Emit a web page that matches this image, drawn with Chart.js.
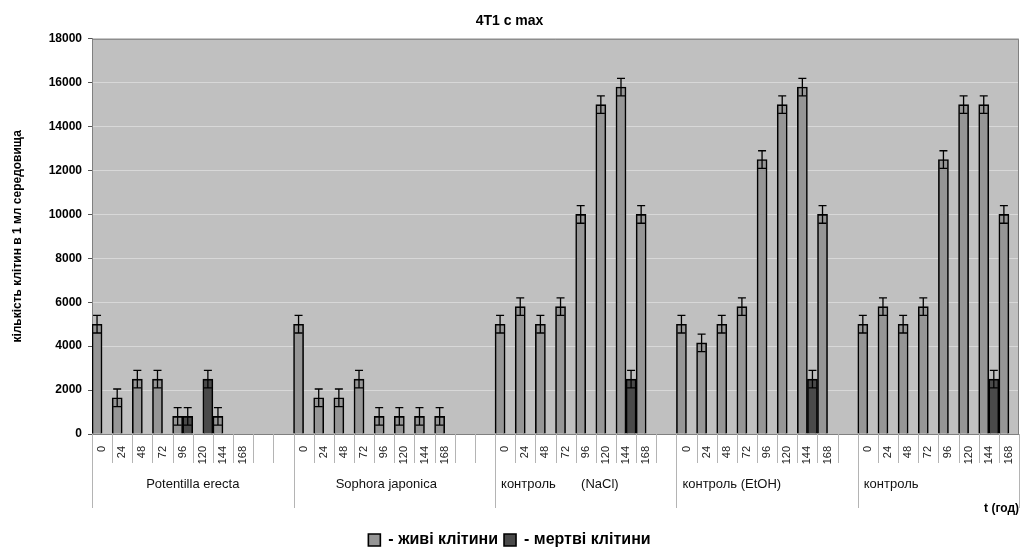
<!DOCTYPE html>
<html><head><meta charset="utf-8">
<script src="https://cdn.jsdelivr.net/npm/chart.js@4.4.1/dist/chart.umd.min.js"></script>
<style>html,body{margin:0;padding:0;background:#fff;}</style>
</head><body>
<canvas id="c" width="1029" height="553"></canvas>
<script>
// ---- data ----
const groups = ['Potentilla erecta', 'Sophora japonica', 'контроль       (NaCl)', 'контроль (EtOH)', 'контроль'];
const times = ['0', '24', '48', '72', '96', '120', '144', '168'];
const gapsAfter = [2, 2, 1, 1, 0];

const livePotentilla = [5000, 1650, 2500, 2500, 800, null, 800, null];
const liveSophora    = [5000, 1650, 1650, 2500, 800, 800, 800, 800];
const liveNaCl       = [5000, 5800, 5000, 5800, 10000, 15000, 15800, 10000];
const liveEtOH       = [5000, 4150, 5000, 5800, 12500, 15000, 15800, 10000];
const liveControl    = [5000, 5800, 5000, 5800, 12500, 15000, 15000, 10000];

const deadPotentilla = [null, null, null, null, 800, 2500, null, null];
const deadSophora    = [null, null, null, null, null, null, null, null];
const deadNaCl       = [null, null, null, null, null, null, 2500, null];
const deadEtOH       = [null, null, null, null, null, null, 2500, null];
const deadControl    = [null, null, null, null, null, null, 2500, null];

const errLivePotentilla = [400, 400, 400, 400, 400, null, 400, null];
const errLiveSophora    = [400, 400, 400, 400, 400, 400, 400, 400];
const errLiveNaCl       = [400, 400, 400, 400, 400, 400, 400, 400];
const errLiveEtOH       = [400, 400, 400, 400, 400, 400, 400, 400];
const errLiveControl    = [400, 400, 400, 400, 400, 400, 400, 400];

const errDeadPotentilla = [null, null, null, null, 400, 400, null, null];
const errDeadSophora    = [null, null, null, null, null, null, null, null];
const errDeadNaCl       = [null, null, null, null, null, null, 400, null];
const errDeadEtOH       = [null, null, null, null, null, null, 400, null];
const errDeadControl    = [null, null, null, null, null, null, 400, null];

const yTicksMax = 18000;
const yTickStep = 2000;
const seriesNames = ['- живі клітини', '- мертві клітини'];

// ---- build flat arrays ----
const liveGroups = [livePotentilla, liveSophora, liveNaCl, liveEtOH, liveControl];
const deadGroups = [deadPotentilla, deadSophora, deadNaCl, deadEtOH, deadControl];
const liveErrGroups = [errLivePotentilla, errLiveSophora, errLiveNaCl, errLiveEtOH, errLiveControl];
const deadErrGroups = [errDeadPotentilla, errDeadSophora, errDeadNaCl, errDeadEtOH, errDeadControl];

const labels = [], live = [], dead = [], liveErr = [], deadErr = [], groupRanges = [];
groups.forEach((g, gi) => {
  const start = labels.length;
  times.forEach((t, i) => {
    labels.push(t);
    live.push(liveGroups[gi][i]); dead.push(deadGroups[gi][i]);
    liveErr.push(liveErrGroups[gi][i]); deadErr.push(deadErrGroups[gi][i]);
  });
  for (let k = 0; k < gapsAfter[gi]; k++) {
    labels.push(''); live.push(null); dead.push(null); liveErr.push(null); deadErr.push(null);
  }
  groupRanges.push([start, labels.length - 1]);
});

const FONT = "'Liberation Sans', Arial, Helvetica, sans-serif";

const deco = {
  id: 'deco',
  beforeDraw(chart) {
    const {ctx, chartArea: a} = chart;
    ctx.save();
    ctx.fillStyle = '#c0c0c0';
    ctx.fillRect(a.left, a.top, a.right - a.left, a.bottom - a.top);
    ctx.restore();
  },
  afterDatasetsDraw(chart) {
    const {ctx, chartArea: a} = chart;
    const y = chart.scales.y;
    ctx.save();
    ctx.strokeStyle = '#000';
    ctx.lineWidth = 1.3;
    chart.data.datasets.forEach((ds, di) => {
      const meta = chart.getDatasetMeta(di);
      ds.data.forEach((v, i) => {
        const e = ds.errors[i];
        if (v == null || e == null) return;
        const x = meta.data[i].x;
        const yt = y.getPixelForValue(v + e), yb = y.getPixelForValue(v - e);
        ctx.beginPath();
        ctx.moveTo(x, yt); ctx.lineTo(x, yb);
        ctx.moveTo(x - 4, yt); ctx.lineTo(x + 4, yt);
        ctx.moveTo(x - 4, yb); ctx.lineTo(x + 4, yb);
        ctx.stroke();
      });
    });
    // plot border (top, right)
    ctx.strokeStyle = '#808080';
    ctx.lineWidth = 1;
    ctx.beginPath();
    ctx.moveTo(a.left, a.top + 0.5); ctx.lineTo(a.right - 0.5, a.top + 0.5); ctx.lineTo(a.right - 0.5, a.bottom);
    ctx.stroke();
    ctx.restore();
  },
  afterDraw(chart) {
    const {ctx, chartArea: a} = chart;
    const x = chart.scales.x;
    const slot = x.getPixelForValue(1) - x.getPixelForValue(0);
    ctx.save();
    ctx.strokeStyle = '#b4b4b4';
    ctx.lineWidth = 1;
    // category separators
    for (let i = 0; i <= labels.length; i++) {
      const px = Math.round(x.getPixelForValue(i) - slot / 2) + 0.5;
      ctx.beginPath(); ctx.moveTo(px, a.bottom); ctx.lineTo(px, a.bottom + 29); ctx.stroke();
    }
    // group separators + labels
    ctx.font = '13px ' + FONT;
    ctx.fillStyle = '#111';
    ctx.textBaseline = 'middle';
    groupRanges.forEach(([s, e], gi) => {
      const l = x.getPixelForValue(s) - slot / 2, r = x.getPixelForValue(e) + slot / 2;
      [l, r].forEach(p => {
        const px = Math.round(p) + 0.5;
        ctx.beginPath(); ctx.moveTo(px, a.bottom); ctx.lineTo(px, a.bottom + 74); ctx.stroke();
      });
      if (gi < 2) { ctx.textAlign = 'center'; ctx.fillText(groups[gi], (l + r) / 2 - (gi === 1 ? 8 : 0), a.bottom + 50); }
      else { ctx.textAlign = 'left'; ctx.fillText(groups[gi], l + 6, a.bottom + 50); }
    });
    ctx.restore();
  }
};

new Chart(document.getElementById('c'), {
  type: 'bar',
  data: {
    labels: labels,
    datasets: [
      {label: seriesNames[0], data: live, errors: liveErr, backgroundColor: '#969696', borderColor: '#000', borderWidth: 1.6, categoryPercentage: 1, barPercentage: 1},
      {label: seriesNames[1], data: dead, errors: deadErr, backgroundColor: '#4a4a4a', borderColor: '#000', borderWidth: 1.6, categoryPercentage: 1, barPercentage: 1}
    ]
  },
  options: {
    responsive: false,
    animation: false,
    layout: {padding: {left: 0, right: 10, top: 0, bottom: -5}},
    plugins: {
      title: {display: true, text: '4T1 с max', color: '#000', font: {family: FONT, size: 14, weight: 'bold'}, padding: {top: 13, bottom: 9}},
      legend: {position: 'bottom', labels: {color: '#000', font: {family: FONT, size: 16, weight: 'bold'}, boxWidth: 12, boxHeight: 12, padding: 6}},
      tooltip: {enabled: false}
    },
    scales: {
      x: {
        grid: {drawOnChartArea: false, drawTicks: false},
        border: {color: '#808080'},
        ticks: {autoSkip: false, minRotation: 90, maxRotation: 90, padding: 12, color: '#222', font: {family: FONT, size: 11}},
        title: {display: true, text: 't (год)', align: 'end', color: '#000', font: {family: FONT, size: 12, weight: 'bold'}, padding: {top: 0, bottom: 10}},
        afterFit(s) { s.height = 92; s.paddingRight = 0; s.paddingLeft = 0; }
      },
      y: {
        min: 0, max: yTicksMax,
        ticks: {stepSize: yTickStep, padding: 6, color: '#000', font: {family: FONT, size: 12, weight: 'bold'}, callback: v => String(v)},
        grid: {color: '#d8d8d8', tickColor: '#555', tickLength: 4},
        border: {color: '#808080'},
        title: {display: true, text: 'кількість клітин в 1 мл середовища', color: '#000', font: {family: FONT, size: 12, weight: 'bold'}, padding: {top: 10, bottom: 0}},
        afterFit(s) { s.width = 92; }
      }
    }
  },
  plugins: [deco]
});
</script>
</body></html>
